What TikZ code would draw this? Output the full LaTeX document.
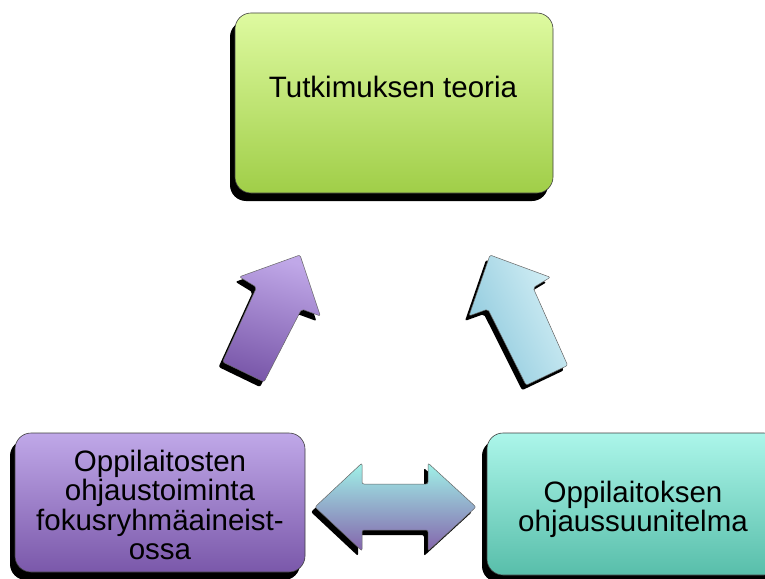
\documentclass[tikz,border=0pt]{standalone}
\usepackage{fontspec}
\setmainfont{Liberation Sans}
\begin{document}
\begin{tikzpicture}[x=1pt,y=-1pt,
  shadowshape/.style={fill=black},
  boxshape/.style={rounded corners=16pt, draw=black!75, line width=0.6pt},
  arrowshape/.style={rounded corners=2pt, draw=black!60, line width=0.5pt},
  lbl/.style={font=\fontsize{29.5}{29.5}\selectfont, align=center, inner sep=0pt, text=black}]
\definecolor{greentop}{RGB}{222,250,160}
\definecolor{greenbot}{RGB}{160,206,72}
\definecolor{purptop}{RGB}{192,168,232}
\definecolor{purpbot}{RGB}{122,88,170}
\definecolor{tealtop}{RGB}{172,246,234}
\definecolor{tealbot}{RGB}{88,190,170}
\definecolor{bluel}{RGB}{140,200,220}
\definecolor{bluer}{RGB}{214,240,246}
\definecolor{dbltop}{RGB}{160,242,232}
\definecolor{dblbot}{RGB}{132,100,172}
\useasboundingbox (0,0) rectangle (765,578);
\fill[white] (0,0) rectangle (765,578);
\clip (0,0) rectangle (765,578);

% top box
\fill[shadowshape, rounded corners=16pt] (230,21) rectangle (548,201);
\shade[boxshape, top color=greentop, bottom color=greenbot] (235,13) rectangle (553,193);
\node[lbl, anchor=base] (theory) at (393,97) {Tutkimuksen teoria};

% left box
\fill[shadowshape, rounded corners=16pt] (10,440) rectangle (300,580);
\shade[boxshape, top color=purptop, bottom color=purpbot] (15,433) rectangle (305,572);
\node[lbl] (focus) at (160,505) {Oppilaitosten\\ohjaustoiminta\\fokusryhmäaineist-\\ossa};

% right box
\fill[shadowshape, rounded corners=16pt] (482,440) rectangle (775,582);
\shade[boxshape, top color=tealtop, bottom color=tealbot] (487,433) rectangle (780,575);
\node[lbl] (plan) at (633,509.5) {Oppilaitoksen\\ohjaussuunitelma};

% purple arrow
\fill[shadowshape, rounded corners=2pt, shift={(-4,5)}]
  (300,255) -- (320.4,316) -- (301.6,309.1) -- (264,382) -- (222.6,362) -- (256.6,287.3) -- (239.4,276.8) -- cycle;
\shade[arrowshape, top color=purptop, bottom color=purpbot, shading angle=-15]
  (300,255) -- (320.4,316) -- (301.6,309.1) -- (264,382) -- (222.6,362) -- (256.6,287.3) -- (239.4,276.8) -- cycle;

% blue arrow
\fill[shadowshape, rounded corners=2pt, shift={(-4,5)}]
  (490,255) -- (550.4,277.3) -- (533.1,287.7) -- (567.7,365.4) -- (526.1,385.2) -- (487.9,309.1) -- (469,315.9) -- cycle;
\shade[arrowshape, left color=bluel, right color=bluer, shading angle=115]
  (490,255) -- (550.4,277.3) -- (533.1,287.7) -- (567.7,365.4) -- (526.1,385.2) -- (487.9,309.1) -- (469,315.9) -- cycle;

% double arrow
\fill[shadowshape, rounded corners=2pt, shift={(-4,5)}]
  (315,507) -- (362,463) -- (362,484) -- (428,484) -- (428,463) -- (476,507) -- (428,551) -- (428,530) -- (362,530) -- (362,551) -- cycle;
\shade[arrowshape, top color=dbltop, bottom color=dblbot]
  (315,507) -- (362,463) -- (362,484) -- (428,484) -- (428,463) -- (476,507) -- (428,551) -- (428,530) -- (362,530) -- (362,551) -- cycle;
\end{tikzpicture}
\end{document}
